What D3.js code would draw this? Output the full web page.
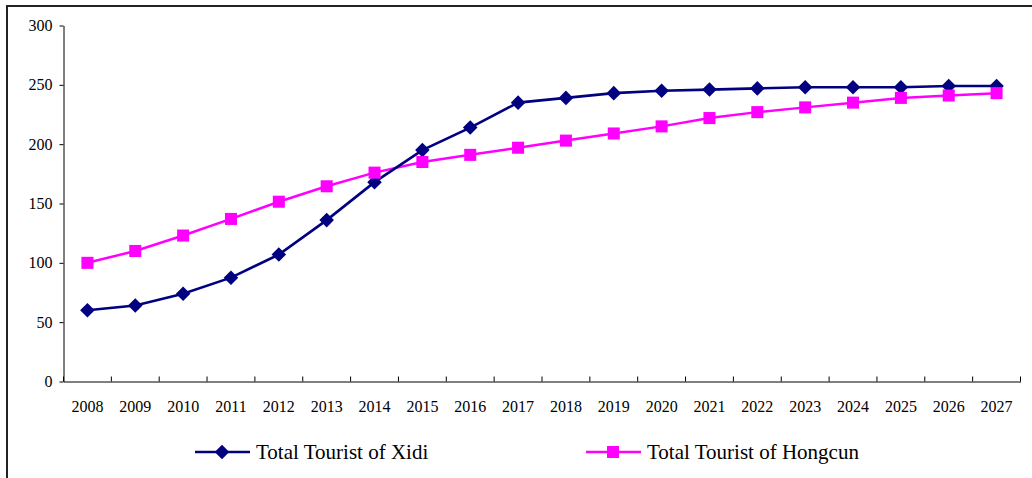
<!DOCTYPE html>
<html>
<head>
<meta charset="utf-8">
<script src="https://cdn.jsdelivr.net/npm/d3@7"></script>
<style>
	body { margin: 0; background: #fff; }
	svg, svg text { font-family: 'Liberation Serif', 'Times New Roman', Times, 'DejaVu Serif', serif; }
</style>
</head>
<body>
<svg id="chart"></svg>
<script>

var w = 1032;
var h = 478;

var years = ['2008','2009','2010','2011','2012','2013','2014','2015','2016','2017',
	'2018','2019','2020','2021','2022','2023','2024','2025','2026','2027'];
var xidi = [60, 64, 74, 87.5, 107, 136, 168, 195, 214, 235, 239, 243, 245, 246, 247, 248, 248, 248, 249, 249];
var hongcun = [100, 110, 123, 137, 151.5, 164.5, 176, 185, 191, 197, 203, 209, 215, 222, 227, 231, 235, 239, 241, 243];
var yTicks = [0, 50, 100, 150, 200, 250, 300];
var seriesNames = ['Total Tourist of Xidi', 'Total Tourist of Hongcun'];

var svg = d3.select('#chart')
	.attr('width', w)
	.attr('height', h);

// outer frame, cut off at right and bottom like the original
svg.append('path')
	.attr('d', 'M7,' + (h + 2) + ' L7,6 L' + (w + 2) + ',6')
	.attr('fill', 'none')
	.attr('stroke', '#222')
	.attr('stroke-width', 2);

var x = d3.scaleBand()
	.domain(years)
	.range([63.5, 1020.5]);

var y = d3.scaleLinear()
	.domain([0, 300])
	.range([381.5, 25.5]);

// y axis, ticks pointing out
var yAxis = svg.append('g')
	.attr('transform', 'translate(63.5,0)')
	.call(d3.axisLeft(y).tickValues(yTicks).tickSize(4).tickPadding(7).tickSizeOuter(0));

// x axis, ticks on band edges pointing up
var xAxis = svg.append('g')
	.attr('transform', 'translate(0,381.5)')
	.call(d3.axisBottom(x).tickSize(0).tickPadding(19));

xAxis.selectAll('.edge')
	.data(d3.range(years.length + 1))
	.enter()
	.append('line')
	.attr('class', 'edge')
	.attr('x1', function(i) { return 63.5 + i * x.step(); })
	.attr('x2', function(i) { return 63.5 + i * x.step(); })
	.attr('y1', 0)
	.attr('y2', -5)
	.attr('stroke', '#000');

yAxis.attr('font-family', null).attr('font-size', null);
xAxis.attr('font-family', null).attr('font-size', null);
svg.selectAll('.domain').attr('stroke', '#000');
svg.selectAll('.tick line').attr('stroke', '#000');
svg.selectAll('.tick text')
	.style('font-size', '16px')
	.attr('fill', '#000');

var cx = function(d, i) { return x(years[i]) + x.bandwidth() / 2; };

var line = d3.line()
	.x(cx)
	.y(function(d) { return y(d); });

var diamond = d3.symbol().type(d3.symbolDiamond2).size(135);
var square = d3.symbol().type(d3.symbolSquare).size(145);

// Hongcun
svg.append('path')
	.datum(hongcun)
	.attr('d', line)
	.attr('fill', 'none')
	.attr('stroke', '#ff00ff')
	.attr('stroke-width', 2.5);

// Xidi
svg.append('path')
	.datum(xidi)
	.attr('d', line)
	.attr('fill', 'none')
	.attr('stroke', '#000080')
	.attr('stroke-width', 2.6);

svg.selectAll('.xidi_pt')
	.data(xidi)
	.enter()
	.append('path')
	.attr('class', 'xidi_pt')
	.attr('d', diamond)
	.attr('transform', function(d, i) { return 'translate(' + cx(d, i) + ',' + y(d) + ')'; })
	.attr('fill', '#000080');

svg.selectAll('.hong_pt')
	.data(hongcun)
	.enter()
	.append('path')
	.attr('class', 'hong_pt')
	.attr('d', square)
	.attr('transform', function(d, i) { return 'translate(' + cx(d, i) + ',' + y(d) + ')'; })
	.attr('fill', '#ff00ff');

// legend
var legendX = [195, 586];
var legendColors = ['#000080', '#ff00ff'];
var legendSyms = [diamond, square];

var legend = svg.selectAll('.legend')
	.data(seriesNames)
	.enter()
	.append('g')
	.attr('class', 'legend')
	.attr('transform', function(d, i) { return 'translate(' + legendX[i] + ',452)'; });

legend.append('line')
	.attr('x1', 0)
	.attr('x2', 55)
	.attr('stroke', function(d, i) { return legendColors[i]; })
	.attr('stroke-width', 2.5);

legend.append('path')
	.attr('d', function(d, i) { return legendSyms[i](); })
	.attr('transform', 'translate(27,0)')
	.attr('fill', function(d, i) { return legendColors[i]; });

legend.append('text')
	.attr('x', 61)
	.attr('y', 7)
	.style('font-size', '21px')
	.attr('fill', '#000')
	.text(function(d) { return d; });

</script>
</body>
</html>
